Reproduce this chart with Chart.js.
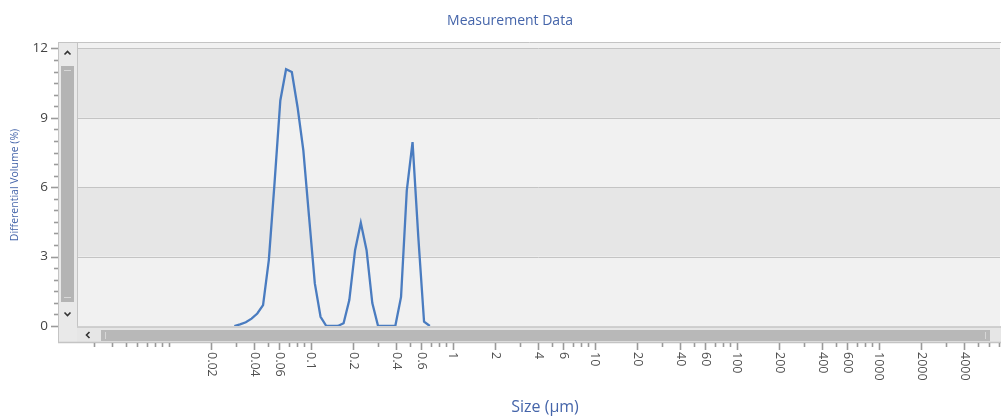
<!DOCTYPE html>
<html>
<head>
<meta charset="utf-8">
<title>Measurement Data</title>
<script src="https://cdn.jsdelivr.net/npm/chart.js@4"></script>
<style>
  html, body { margin: 0; padding: 0; background: #fff; }
  #wrap { width: 1001px; height: 416px; position: relative; }
</style>
</head>
<body>
<div id="wrap"><canvas id="sizeChart"></canvas></div>
<script>
// channel sizes (um)
const sizes = [0.02897, 0.03180, 0.03491, 0.03832, 0.04207, 0.04618, 0.05070, 0.05565, 0.06109, 0.06706,
               0.07362, 0.08081, 0.08871, 0.09737, 0.1069, 0.1173, 0.1288, 0.1414, 0.1552, 0.1704,
               0.1870, 0.2053, 0.2253, 0.2474, 0.2715, 0.2981, 0.3272, 0.3591, 0.3942, 0.4327,
               0.4750, 0.5214, 0.5724, 0.6283, 0.6897];
// differential volume (%)
const volume = [0, 0.07, 0.16, 0.32, 0.54, 0.9, 2.85, 6.2, 9.75, 11.1,
                10.98, 9.46, 7.6, 4.72, 1.84, 0.4, 0, 0, 0, 0.12,
                1.12, 3.28, 4.46, 3.28, 0.99, 0, 0, 0, 0, 1.26,
                5.87, 7.95, 3.85, 0.19, 0];
const xTickLabels = [0.02, 0.04, 0.06, 0.1, 0.2, 0.4, 0.6, 1, 2, 4, 6, 10, 20, 40, 60, 100, 200, 400, 600, 1000, 2000, 4000];
const yTicks = [0, 3, 6, 9, 12];

const FONT = '"Segoe UI", "Open Sans", sans-serif';
const BLUE = '#4565aa';

function chevron(ctx, cx, cy, dir) {
    // small arrow glyph for the scrollbar buttons
    ctx.beginPath();
    if (dir === 'up')   { ctx.moveTo(cx - 3, cy + 1.5); ctx.lineTo(cx, cy - 1.5); ctx.lineTo(cx + 3, cy + 1.5); }
    if (dir === 'down') { ctx.moveTo(cx - 3, cy - 1.5); ctx.lineTo(cx, cy + 1.5); ctx.lineTo(cx + 3, cy - 1.5); }
    if (dir === 'left') { ctx.moveTo(cx + 1.5, cy - 3); ctx.lineTo(cx - 1.5, cy); ctx.lineTo(cx + 1.5, cy + 3); }
    ctx.strokeStyle = '#333';
    ctx.lineWidth = 1.6;
    ctx.stroke();
}

const decor = {
    id: 'decor',
    beforeDatasetsDraw(chart) {
        const { ctx, chartArea: a, scales: { y } } = chart;
        ctx.save();
        // alternating bands
        for (let i = 0; i < yTicks.length; i++) {
            const hi = i + 1 < yTicks.length ? yTicks[i + 1] : y.max;
            const top = y.getPixelForValue(hi), bot = y.getPixelForValue(yTicks[i]);
            ctx.fillStyle = i % 2 ? '#e6e6e6' : '#f1f1f1';
            ctx.fillRect(a.left, top, a.right - a.left, bot - top);
        }
        // gridlines
        ctx.strokeStyle = '#c4c4c4';
        ctx.lineWidth = 1;
        yTicks.slice(1).forEach(v => {
            const py = Math.round(y.getPixelForValue(v)) + 0.5;
            ctx.beginPath(); ctx.moveTo(a.left, py); ctx.lineTo(a.right, py); ctx.stroke();
        });
        // frame top
        ctx.beginPath(); ctx.moveTo(58, a.top + 0.5); ctx.lineTo(a.right + 1, a.top + 0.5); ctx.stroke();
        ctx.restore();
    },
    afterDraw(chart) {
        const { ctx, chartArea: a, scales: { x, y } } = chart;
        ctx.save();

        // vertical scrollbar
        ctx.fillStyle = '#e9e9e9';
        ctx.fillRect(58, a.top, a.left - 58, 343 - a.top);
        ctx.strokeStyle = '#c4c4c4';
        ctx.lineWidth = 1;
        ctx.strokeRect(58.5, a.top + 0.5, a.left - 58, 343 - a.top - 1);
        ctx.fillStyle = '#b4b4b4';
        ctx.fillRect(61, 66, 13, 236);
        ctx.fillStyle = '#d8d8d8';
        ctx.fillRect(64, 70, 7, 1);
        ctx.fillRect(64, 297, 7, 1);
        chevron(ctx, 67.5, 53, 'up');
        chevron(ctx, 67.5, 314, 'down');

        // horizontal scrollbar (covers the lower half of the zero line)
        ctx.fillStyle = '#e6e6e6';
        ctx.fillRect(a.left, 326.5, 1001 - a.left, 16.5);
        ctx.strokeStyle = '#c4c4c4';
        ctx.beginPath(); ctx.moveTo(a.left, 327); ctx.lineTo(1001, 327); ctx.stroke();
        ctx.beginPath(); ctx.moveTo(58, 342.5); ctx.lineTo(1001, 342.5); ctx.stroke();
        ctx.fillStyle = '#b8b8b8';
        ctx.fillRect(101, 330, 889, 11);
        ctx.fillStyle = '#d6d6d6';
        ctx.fillRect(105, 332, 1, 7);
        ctx.fillRect(985, 332, 1, 7);
        chevron(ctx, 88, 335, 'left');

        // y ticks and labels
        ctx.strokeStyle = '#9a9a9a';
        for (let v = 0; v <= 12; v += 0.5) {
            const py = Math.round(y.getPixelForValue(v)) + 0.5;
            const major = v % 3 === 0;
            ctx.beginPath(); ctx.moveTo(major ? 51 : 54, py); ctx.lineTo(58, py); ctx.stroke();
        }
        ctx.fillStyle = '#444';
        ctx.font = '13.5px ' + FONT;
        ctx.textAlign = 'right';
        ctx.textBaseline = 'middle';
        yTicks.forEach(v => ctx.fillText(String(v), 48, y.getPixelForValue(v)));

        // x ticks (log subdivisions) and rotated labels
        for (let e = -3; e <= 3; e++) {
            for (let m = 1; m <= 9; m++) {
                const v = m * Math.pow(10, e);
                if (v < x.min || v > x.max) continue;
                const px = Math.round(x.getPixelForValue(v)) + 0.5;
                const major = xTickLabels.includes(+v.toPrecision(6));
                ctx.beginPath(); ctx.moveTo(px, 343); ctx.lineTo(px, major ? 350 : 347); ctx.stroke();
            }
        }
        ctx.fillStyle = '#505050';
        ctx.font = '12.5px ' + FONT;
        ctx.textAlign = 'left';
        ctx.textBaseline = 'middle';
        xTickLabels.forEach(v => {
            ctx.save();
            ctx.translate(x.getPixelForValue(v), 352);
            ctx.rotate(Math.PI / 2);
            ctx.fillText(String(v), 0, 0);
            ctx.restore();
        });

        // titles
        ctx.fillStyle = BLUE;
        ctx.textAlign = 'center';
        ctx.font = '14px ' + FONT;
        ctx.fillText('Measurement Data', 510, 21);
        ctx.font = '16px ' + FONT;
        ctx.fillText('Size (\u00b5m)', 545, 407);
        ctx.save();
        ctx.translate(15, 185);
        ctx.rotate(-Math.PI / 2);
        ctx.font = '10.5px ' + FONT;
        ctx.fillText('Differential Volume (%)', 0, 0);
        ctx.restore();

        ctx.restore();
    }
};

new Chart(document.getElementById('sizeChart'), {
    type: 'line',
    data: {
        datasets: [{
            label: 'Differential Volume',
            data: sizes.map((s, i) => ({ x: s, y: volume[i] })),
            borderColor: '#4a7cc0',
            borderWidth: 2.3,
            pointRadius: 0,
            tension: 0,
            fill: false
        }]
    },
    options: {
        responsive: true,
        maintainAspectRatio: false,
        animation: false,
        layout: { padding: { left: 77, right: 1, top: 42, bottom: 90 } },
        plugins: { legend: { display: false }, tooltip: { enabled: false }, title: { display: false } },
        scales: {
            x: { type: 'logarithmic', min: 0.00226, max: 7149, display: false },
            y: { type: 'linear', min: 0, max: 12.28, display: false }
        }
    },
    plugins: [decor]
});
</script>
</body>
</html>
